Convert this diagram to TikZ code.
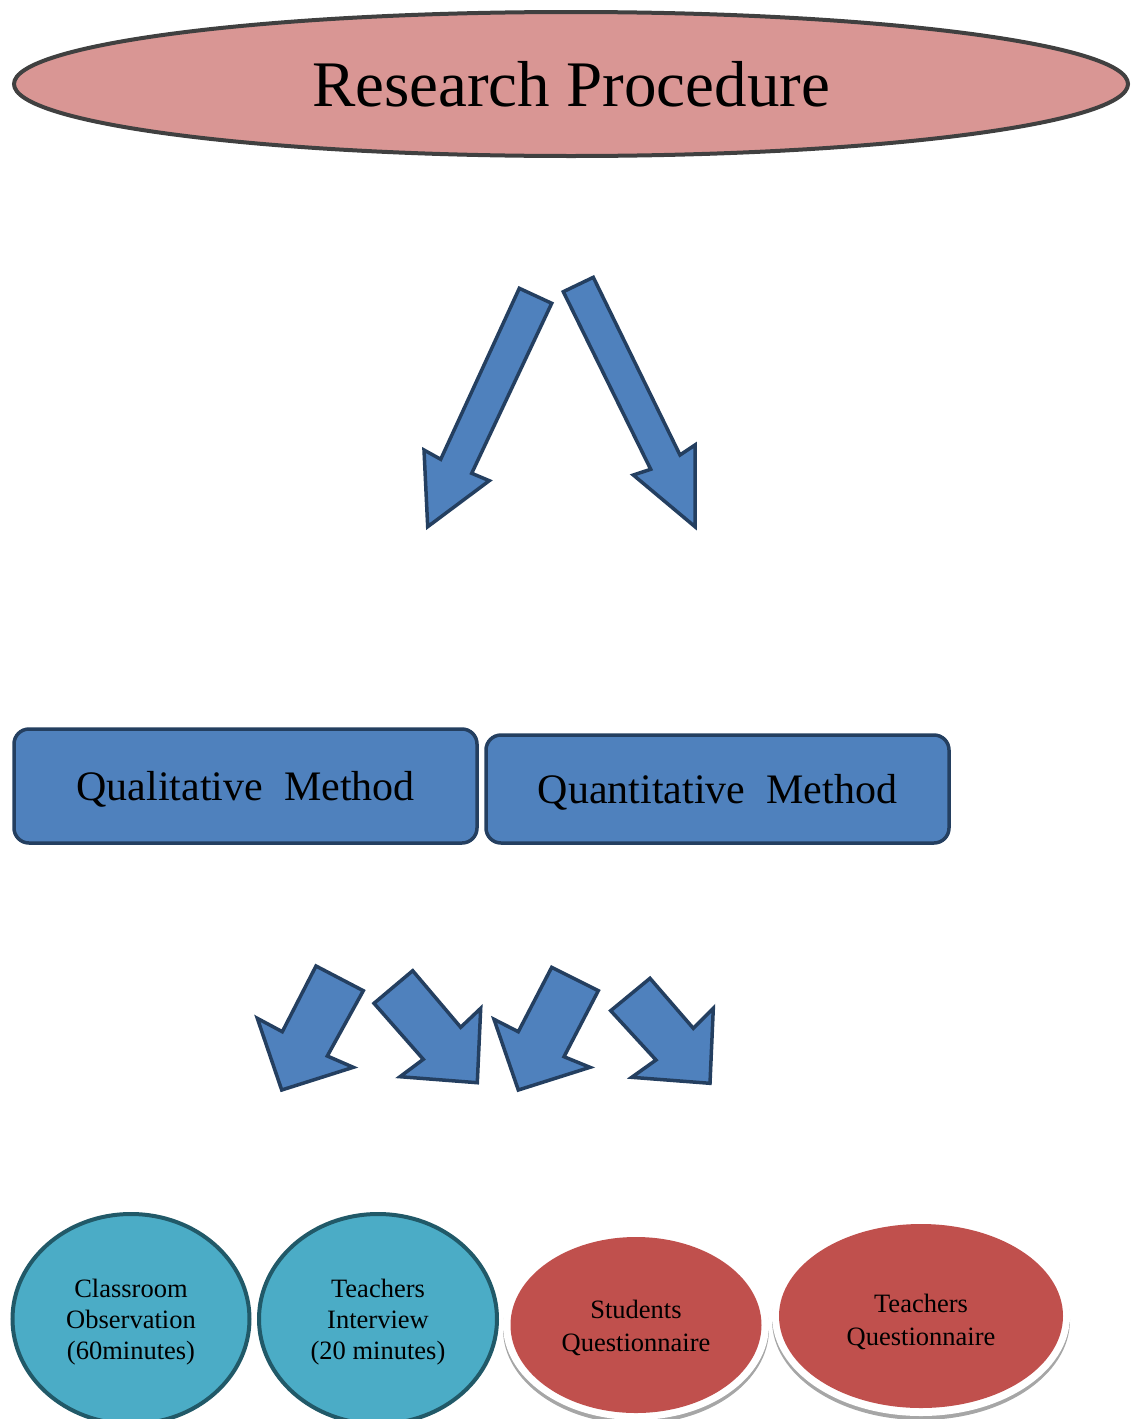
\documentclass[tikz,border=0pt]{standalone}
\usepackage{fontspec}
\setmainfont{Liberation Serif}
\usetikzlibrary{shapes.geometric}
\definecolor{pinkfill}{HTML}{D99694}
\definecolor{grayline}{HTML}{404040}
\definecolor{bluefill}{HTML}{4F81BD}
\definecolor{navy}{HTML}{243F60}
\definecolor{tealfill}{HTML}{4BACC6}
\definecolor{tealline}{HTML}{215968}
\definecolor{redfill}{HTML}{C0504D}
\definecolor{shadowgray}{HTML}{A6A6A6}
\tikzset{
  titleell/.style={ellipse, draw=grayline, fill=pinkfill, line width=4pt, inner sep=0pt, font=\fontsize{65}{70}\selectfont},
  methodbox/.style={rectangle, rounded corners=15pt, draw=navy, fill=bluefill, line width=3.5pt, inner sep=0pt, font=\fontsize{42}{46}\selectfont, text depth=0pt},
  blockarrow/.style={draw=navy, fill=bluefill, line width=3.5pt, line join=miter},
  tealell/.style={ellipse, draw=tealline, fill=tealfill, line width=4pt, inner sep=0pt},
  redell/.style={ellipse, fill=redfill, inner sep=0pt},
  whiteell/.style={ellipse, fill=white, inner sep=0pt},
  shadell/.style={ellipse, fill=shadowgray, inner sep=0pt},
  ovaltext/.style={inner sep=0pt, align=center, font=\fontsize{26.5}{31}\selectfont},
  redtext/.style={inner sep=0pt, align=center, font=\fontsize{26.5}{32.5}\selectfont},
}
\begin{document}
\begin{tikzpicture}[x=1pt,y=-1pt]
\useasboundingbox (0,0) rectangle (1130,1419);
% title
\node[titleell, minimum width=1114pt, minimum height=144pt] (title) at (571,84)
  {Research Procedure};
% top arrows
\draw[blockarrow] (519.3,288.3) -- (551.7,303.3) -- (471.7,473.3) -- (489.3,480.7)
  -- (427.7,526.7) -- (424,450) -- (440.7,459.3) -- cycle;
\draw[blockarrow] (563.3,291.7) -- (593.3,277.3) -- (680,455) -- (695,445)
  -- (695,526.7) -- (633.3,475) -- (650.7,469.3) -- cycle;
% method boxes
\node[methodbox, minimum width=463pt, minimum height=114pt] (qual) at (245.5,786)
  {Qualitative\ \ Method};
\node[methodbox, minimum width=463pt, minimum height=108pt] (quant) at (717.5,789)
  {Quantitative\ \ Method};
% bottom arrows
\draw[blockarrow] (316,966) -- (363.3,990.7) -- (327.3,1056) -- (353.3,1067.3)
  -- (281.7,1090) -- (257.3,1018.3) -- (282.3,1031.7) -- cycle;
\draw[blockarrow] (374,1003.3) -- (412.7,970.7) -- (460.7,1027.3) -- (480.7,1008.3)
  -- (477.3,1082.7) -- (400,1076.7) -- (423.3,1059.3) -- cycle;
\draw[blockarrow] (551.7,967.3) -- (598.3,990.7) -- (564,1056.7) -- (590,1067.3)
  -- (518.3,1090) -- (494,1019.3) -- (518.3,1031.7) -- cycle;
\draw[blockarrow] (610.7,1010.7) -- (650,978.3) -- (693.3,1028.3) -- (713.3,1008.3)
  -- (710,1083.3) -- (631.7,1077.3) -- (656,1060) -- cycle;
% teal ellipses
\node[tealell, minimum width=237pt, minimum height=210pt] (obs) at (131,1319) {};
\node[ovaltext] (obstext) at ([yshift=-3pt]obs.center)
  {Classroom\\Observation\\(60minutes)};
\node[tealell, minimum width=238pt, minimum height=210pt] (int) at (378,1319) {};
\node[ovaltext] (inttext) at ([yshift=-3pt]int.center)
  {Teachers\\Interview\\(20 minutes)};
% red ellipses with white rim and shadow
\node[shadell, minimum width=266pt, minimum height=190pt] (sqs) at (636,1329) {};
\node[whiteell, minimum width=266pt, minimum height=190pt] (sqw) at (636,1325) {};
\node[redell, minimum width=251pt, minimum height=176pt] (sq) at (636,1325) {};
\node[redtext] (sqtext) at ([yshift=-3pt]sq.center) {Students\\Questionnaire};
\node[shadell, minimum width=298pt, minimum height=200pt] (tqs) at (921,1320) {};
\node[whiteell, minimum width=298pt, minimum height=200pt] (tqw) at (921,1316) {};
\node[redell, minimum width=284pt, minimum height=184pt] (tq) at (921,1316) {};
\node[redtext] (tqtext) at ([yshift=-6pt]tq.center) {Teachers\\Questionnaire};
\end{tikzpicture}
\end{document}
